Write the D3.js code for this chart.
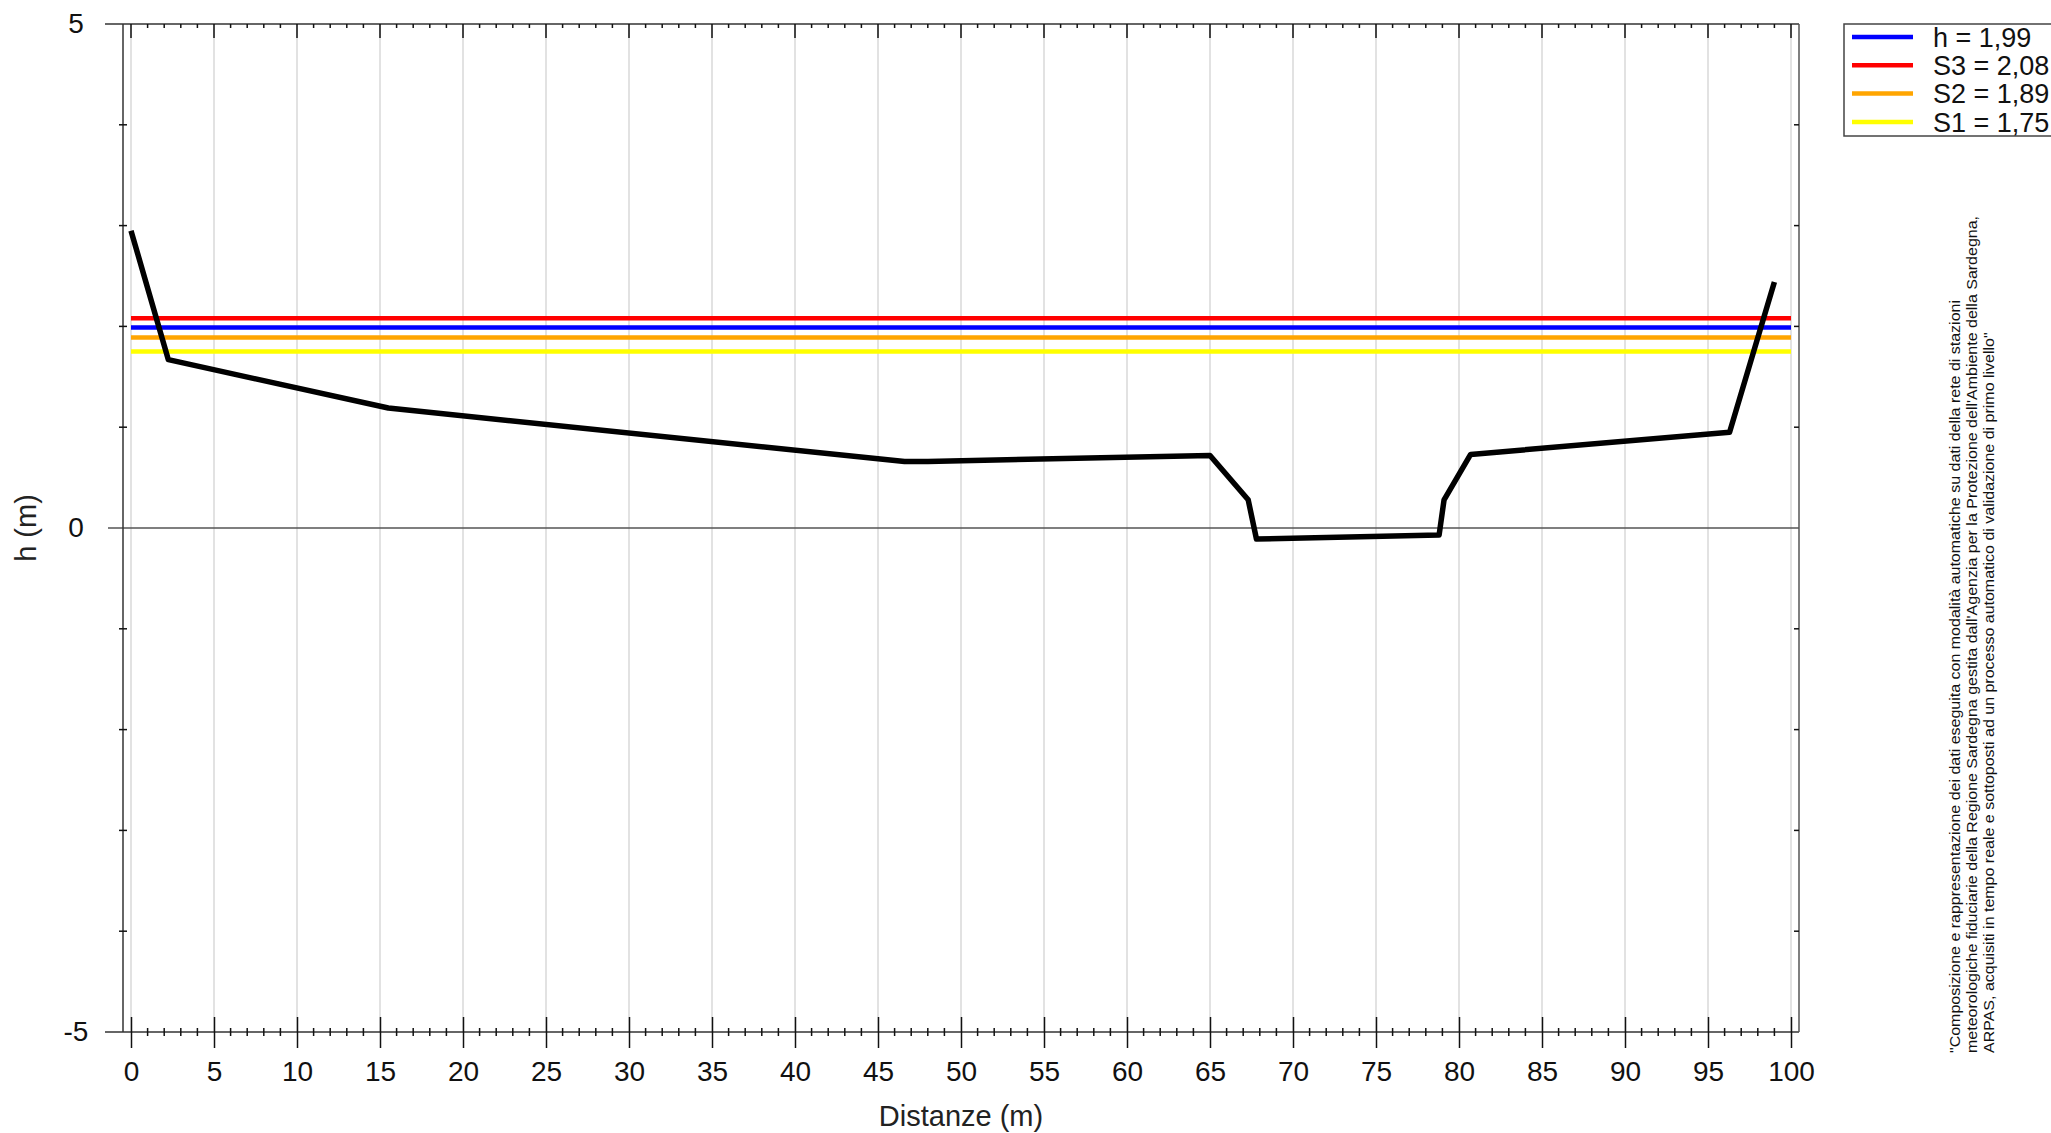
<!DOCTYPE html>
<html>
<head>
  <meta charset="UTF-8">
  <style>
    body { margin: 0; background: #fff; }
    svg { display: block; font-family: "Liberation Sans", Arial, sans-serif; }
  </style>
</head>
<body>
<svg id="chart"></svg>
<script src="https://d3js.org/d3.v7.min.js"></script>
<script>
// profile of the section (distance in m, height in m)
const distanze = [0, 2.25, 15.5, 46.6, 48.0, 65.0, 67.3, 67.8, 78.8, 79.1, 80.7, 96.3, 99.0];
const quote    = [2.95, 1.67, 1.19, 0.66, 0.66, 0.72, 0.28, -0.11, -0.07, 0.28, 0.73, 0.95, 2.44];

// level lines and legend
const livelliNomi   = ["h", "S3", "S2", "S1"];
const livelliValori = [1.99, 2.08, 1.89, 1.75];
const livelliColori = ["#0000ff", "#ff0000", "#ffa500", "#ffff00"];

const xTicks = d3.range(0, 101, 5);
const yTicks = [-5, 0, 5];

const nota = [
  "\"Composizione e rappresentazione dei dati eseguita con modalità automatiche su dati della rete di stazioni",
  "meteorologiche fiduciarie della Regione Sardegna gestita dall'Agenzia per la Protezione dell'Ambiente della Sardegna,",
  "ARPAS, acquisiti in tempo reale e sottoposti ad un processo automatico di validazione di primo livello\""
];

let width = 2051, height = 1133;
let svg = d3.select("#chart").attr("width", width).attr("height", height);

let x = d3.scaleLinear().domain([0, 100]).range([131, 1791]);
let y = d3.scaleLinear().domain([-5, 5]).range([1032, 24]);
const pLeft = 123, pRight = 1799, pTop = y(5), pBottom = y(-5);

const it = d3.formatLocale({decimal: ",", thousands: ".", grouping: [3], currency: ["€", ""]});
const fmt = it.format(".2f");

// vertical grid
svg.append("g")
  .selectAll("line")
  .data(xTicks)
  .join("line")
    .attr("x1", d => x(d)).attr("x2", d => x(d))
    .attr("y1", pTop).attr("y2", pBottom)
    .attr("stroke", "#d9d9d9")
    .attr("stroke-width", 1.5);

// zero line
svg.append("line")
  .attr("x1", 108).attr("x2", pRight)
  .attr("y1", y(0)).attr("y2", y(0))
  .attr("stroke", "#555").attr("stroke-width", 1.3);

// frame
svg.append("line").attr("x1", 105).attr("x2", pRight).attr("y1", pTop).attr("y2", pTop)
  .attr("stroke", "#333").attr("stroke-width", 1.5);
svg.append("line").attr("x1", 105).attr("x2", pRight).attr("y1", pBottom).attr("y2", pBottom)
  .attr("stroke", "#333").attr("stroke-width", 1.5);
svg.append("line").attr("x1", pLeft).attr("x2", pLeft).attr("y1", pTop).attr("y2", pBottom)
  .attr("stroke", "#333").attr("stroke-width", 1.5);
svg.append("line").attr("x1", pRight).attr("x2", pRight).attr("y1", pTop).attr("y2", pBottom)
  .attr("stroke", "#555").attr("stroke-width", 1.5);

// x minor ticks (every 1 m) bottom and top
let minorX = d3.range(0, 101, 1).filter(d => d % 5 !== 0);
let ticksG = svg.append("g").attr("stroke", "#111").attr("stroke-width", 1.5);
ticksG.selectAll(".mxb").data(minorX).join("line")
  .attr("x1", d => x(d)).attr("x2", d => x(d))
  .attr("y1", pBottom - 4).attr("y2", pBottom + 4);
ticksG.selectAll(".mxt").data(minorX).join("line")
  .attr("x1", d => x(d)).attr("x2", d => x(d))
  .attr("y1", pTop).attr("y2", pTop + 4);
ticksG.selectAll(".Mxt").data(xTicks).join("line")
  .attr("x1", d => x(d)).attr("x2", d => x(d))
  .attr("y1", pTop).attr("y2", pTop + 14);

// y minor ticks left (crossing) and right (inside)
let minorY = d3.range(-4, 5, 1).filter(d => d !== 0);
ticksG.selectAll(".myl").data(minorY).join("line")
  .attr("x1", pLeft - 4).attr("x2", pLeft + 4)
  .attr("y1", d => y(d)).attr("y2", d => y(d));
ticksG.selectAll(".myr").data(minorY).join("line")
  .attr("x1", pRight - 5).attr("x2", pRight)
  .attr("y1", d => y(d)).attr("y2", d => y(d));

// x axis with major ticks crossing the line
let xAxis = svg.append("g")
  .attr("transform", "translate(0," + pBottom + ")")
  .call(d3.axisBottom(x).tickValues(xTicks).tickSize(16).tickPadding(13).tickFormat(d3.format("d")));
xAxis.select(".domain").remove();
xAxis.selectAll(".tick line").attr("y1", -15).attr("stroke", "#111").attr("stroke-width", 1.5);
xAxis.selectAll(".tick text")
  .attr("font-size", 28).attr("fill", "#111")
  .attr("font-family", "Liberation Sans, Arial, sans-serif");

// y axis labels
let yAxis = svg.append("g")
  .attr("transform", "translate(" + pLeft + ",0)")
  .call(d3.axisLeft(y).tickValues(yTicks).tickSize(0).tickPadding(0));
yAxis.select(".domain").remove();
yAxis.selectAll(".tick text")
  .attr("x", -47).attr("text-anchor", "middle")
  .attr("font-size", 28).attr("fill", "#111")
  .attr("font-family", "Liberation Sans, Arial, sans-serif")
  .text(d => d < 0 ? "-" + Math.abs(d) : d);

// axis titles
svg.append("text")
  .attr("x", (x(0) + x(100)) / 2).attr("y", 1126)
  .attr("text-anchor", "middle")
  .attr("font-size", 29).attr("fill", "#222")
  .text("Distanze (m)");
svg.append("text")
  .attr("transform", "translate(36," + y(0) + ") rotate(-90)")
  .attr("text-anchor", "middle")
  .attr("font-size", 29).attr("fill", "#222")
  .text("h (m)");

// level lines
svg.append("g")
  .selectAll("line")
  .data(livelliValori)
  .join("line")
    .attr("x1", x(0)).attr("x2", x(100))
    .attr("y1", d => y(d)).attr("y2", d => y(d))
    .attr("stroke", (d, i) => livelliColori[i])
    .attr("stroke-width", 4.5);

// profile
let profilo = distanze.map((d, i) => [d, quote[i]]);
svg.append("path")
  .datum(profilo)
  .attr("fill", "none")
  .attr("stroke", "#000")
  .attr("stroke-width", 5.5)
  .attr("stroke-linejoin", "round")
  .attr("d", d3.line().x(d => x(d[0])).y(d => y(d[1])));

// legend
let legend = svg.append("g");
legend.append("rect")
  .attr("x", 1844).attr("y", 24).attr("width", 230).attr("height", 112)
  .attr("fill", "#fff").attr("stroke", "#444").attr("stroke-width", 1.5);
let rows = legend.selectAll(".row")
  .data(livelliNomi)
  .join("g")
    .attr("transform", (d, i) => "translate(0," + (37 + i * 28.3) + ")");
rows.append("line")
  .attr("x1", 1852).attr("x2", 1913)
  .attr("stroke", (d, i) => livelliColori[i])
  .attr("stroke-width", 4.5);
rows.append("text")
  .attr("x", 1933).attr("dy", "0.36em")
  .attr("font-size", 27).attr("fill", "#111")
  .text((d, i) => d + " = " + fmt(livelliValori[i]));

// note (rotated)
let notaG = svg.append("g").attr("font-size", 15).attr("fill", "#111");
let noteTexts = notaG.selectAll("text")
  .data(nota)
  .join("text")
    .attr("transform", (d, i) => "translate(" + (1960 + i * 17) + ",1053) rotate(-90)")
    .text(d => d);
let natural = noteTexts.nodes().map(n => n.getComputedTextLength());
let k = 837 / natural[1];
noteTexts
  .attr("textLength", (d, i) => natural[i] * k)
  .attr("lengthAdjust", "spacingAndGlyphs");
</script>
</body>
</html>
